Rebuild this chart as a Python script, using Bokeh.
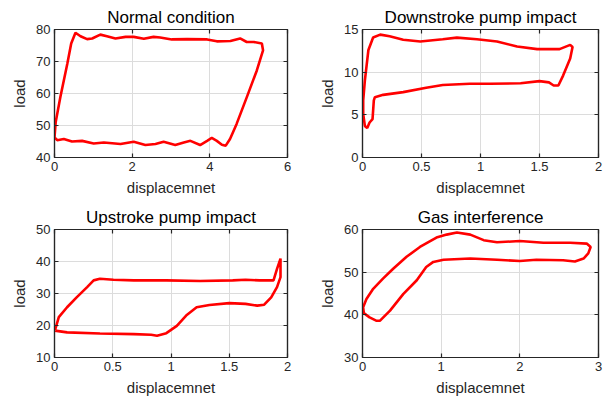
from bokeh.plotting import figure
from bokeh.layouts import column, row
from bokeh.models import Range1d, FixedTicker, LinearAxis
from bokeh.embed import file_html
from bokeh.resources import INLINE

# ---- data ----
normal_x = [0.0, 0.03, 0.15, 0.33, 0.43, 0.54, 0.67, 0.84, 0.97, 1.18, 1.35, 1.57, 1.83, 2.04, 2.30, 2.55,
            2.72, 3.02, 3.41, 3.93, 4.18, 4.53, 4.78, 4.95, 5.13, 5.34, 5.37, 5.21, 4.95, 4.69, 4.52, 4.41,
            4.31, 4.18, 4.05, 3.93, 3.75, 3.50, 3.33, 3.11, 2.81, 2.60, 2.34, 2.04, 1.70, 1.27, 1.01, 0.71,
            0.45, 0.24, 0.07, 0.0]
normal_y = [46.3, 51.0, 58.8, 69.3, 75.6, 79.0, 77.9, 77.0, 77.2, 78.4, 77.9, 77.2, 77.7, 77.7, 77.1, 77.7,
            77.5, 76.9, 77.0, 76.9, 76.3, 76.4, 77.2, 76.1, 76.1, 75.6, 73.5, 67.2, 58.8, 50.5, 45.8, 43.7,
            44.0, 45.2, 46.1, 45.2, 43.9, 45.2, 44.7, 43.9, 44.9, 44.2, 43.9, 44.9, 44.2, 44.7, 44.4, 45.2,
            45.0, 45.8, 45.4, 46.3]

down_x = [0.006, 0.02, 0.05, 0.09, 0.15, 0.23, 0.345, 0.49, 0.68, 0.80, 0.97, 1.14, 1.31, 1.48, 1.67, 1.76,
          1.78, 1.76, 1.70, 1.66, 1.62, 1.58, 1.50, 1.34, 1.08, 0.91, 0.68, 0.54, 0.345, 0.175, 0.105, 0.096,
          0.085, 0.06, 0.04, 0.02, 0.006, 0.006]
down_y = [6.7, 9.0, 12.6, 14.06, 14.4, 14.2, 13.8, 13.6, 13.86, 14.05, 13.86, 13.6, 13.0, 12.7, 12.7, 13.2,
          12.95, 11.6, 9.6, 8.44, 8.44, 8.8, 8.95, 8.7, 8.64, 8.64, 8.5, 8.17, 7.66, 7.34, 7.07, 6.7,
          4.5, 4.1, 3.45, 3.7, 5.1, 6.7]

up_x = [0.003, 0.037, 0.108, 0.19, 0.28, 0.336, 0.39, 0.506, 0.68, 0.96, 1.25, 1.53, 1.64, 1.76, 1.88, 1.91,
        1.94, 1.94, 1.91, 1.86, 1.80, 1.74, 1.64, 1.50, 1.33, 1.22, 1.13, 1.05, 0.96, 0.88, 0.83, 0.68,
        0.39, 0.108, 0.003]
up_y = [18.4, 22.6, 25.7, 28.8, 32.0, 34.1, 34.6, 34.3, 34.1, 34.1, 33.9, 34.1, 34.3, 34.1, 34.1, 37.7,
        40.9, 35.1, 32.0, 28.8, 26.5, 26.2, 26.75, 27.0, 26.4, 25.7, 23.1, 19.9, 17.6, 16.8, 17.1, 17.3,
        17.5, 17.85, 18.4]

gas_x = [0.008, 0.05, 0.136, 0.26, 0.39, 0.56, 0.73, 0.94, 1.07, 1.20, 1.37, 1.54, 1.71, 2.0, 2.3, 2.64,
         2.85, 2.90, 2.87, 2.81, 2.70, 2.55, 2.21, 2.0, 1.71, 1.37, 1.03, 0.90, 0.81, 0.69, 0.52, 0.35,
         0.22, 0.18, 0.09, 0.017, 0.008]
gas_y = [41.8, 43.7, 46.1, 48.5, 50.8, 53.6, 55.9, 58.1, 58.8, 59.3, 58.8, 57.5, 57.0, 57.3, 56.9, 56.9,
         56.7, 55.9, 54.4, 53.2, 52.5, 52.8, 52.9, 52.6, 52.9, 53.2, 52.9, 52.4, 51.2, 48.1, 44.9, 41.0,
         38.6, 38.6, 39.4, 40.4, 41.8]

titles = ["Normal condition", "Downstroke pump impact", "Upstroke pump impact", "Gas interference"]
x_label = "displacemnet"
y_label = "load"

x_ticks = [[0, 2, 4, 6], [0, 0.5, 1, 1.5, 2], [0, 0.5, 1, 1.5, 2], [0, 1, 2, 3]]
x_tick_labels = [["0", "2", "4", "6"], ["0", "0.5", "1", "1.5", "2"], ["0", "0.5", "1", "1.5", "2"],
                 ["0", "1", "2", "3"]]
y_ticks = [[40, 50, 60, 70, 80], [0, 5, 10, 15], [10, 20, 30, 40, 50], [30, 40, 50, 60]]
y_tick_labels = [["40", "50", "60", "70", "80"], ["0", "5", "10", "15"], ["10", "20", "30", "40", "50"],
                 ["30", "40", "50", "60"]]
x_limits = [(0, 6), (0, 2), (0, 2), (0, 3)]
y_limits = [(40, 80), (0, 15), (10, 50), (30, 60)]
series = [(normal_x, normal_y), (down_x, down_y), (up_x, up_y), (gas_x, gas_y)]

FONT = "Liberation Sans"
AX = "#262626"

# layout geometry per panel: (frame_w, frame_h, left, right, top, bottom)
geom = [(233, 128, 54, 16, 29, 43),
        (236, 128, 59, 5, 29, 43),
        (233, 128, 54, 16, 29, 43),
        (236, 128, 59, 5, 29, 43)]


def style_axis(ax, ticks, labels, show_labels=True):
    ax.ticker = FixedTicker(ticks=ticks)
    ax.minor_tick_line_color = None
    ax.major_tick_in = 4
    ax.major_tick_out = 0
    ax.axis_line_color = AX
    ax.axis_line_width = 1.2
    ax.major_tick_line_color = AX
    ax.major_tick_line_width = 1.2
    ax.major_label_text_font = FONT
    ax.major_label_text_color = AX
    if show_labels:
        ax.major_label_overrides = {t_: l_ for t_, l_ in zip(ticks, labels)}
        ax.major_label_text_font_size = "13px"
        ax.major_label_standoff = 4
    else:
        ax.major_label_overrides = {t_: "" for t_ in ticks}
        ax.major_label_text_font_size = "0px"
        ax.major_label_standoff = 0


figs = []
for i in range(4):
    fw, fh, bl, br, bt, bb = geom[i]
    p = figure(frame_width=fw, frame_height=fh, min_border_left=bl, min_border_right=br,
               min_border_top=bt, min_border_bottom=bb,
               x_range=Range1d(*x_limits[i]), y_range=Range1d(*y_limits[i]),
               output_backend="svg", toolbar_location=None, tools="")
    p.title.text = titles[i]
    p.title.align = "center"
    p.title.text_font = FONT
    p.title.text_font_size = "17px"
    p.title.text_font_style = "normal"
    p.title.text_color = "#000000"
    p.title.standoff = 5
    p.background_fill_color = "white"
    p.border_fill_color = "white"
    p.outline_line_color = AX
    p.outline_line_width = 1.2

    bottom_ax = p.below[0]
    left_ax = p.left[0]
    top_ax = LinearAxis()
    right_ax = LinearAxis()
    p.add_layout(top_ax, "above")
    p.add_layout(right_ax, "right")

    p.line(series[i][0], series[i][1], line_color="#ff0000", line_width=2.6)

    style_axis(bottom_ax, x_ticks[i], x_tick_labels[i])
    style_axis(left_ax, y_ticks[i], y_tick_labels[i])
    style_axis(top_ax, x_ticks[i], x_tick_labels[i], show_labels=False)
    style_axis(right_ax, y_ticks[i], y_tick_labels[i], show_labels=False)
    for ax in (bottom_ax, left_ax):
        ax.axis_label_text_font = FONT
        ax.axis_label_text_font_size = "15px"
        ax.axis_label_text_font_style = "normal"
        ax.axis_label_text_color = AX
        ax.axis_label_standoff = 5
    bottom_ax.axis_label = x_label
    left_ax.axis_label = y_label
    p.xgrid.ticker = FixedTicker(ticks=x_ticks[i])
    p.ygrid.ticker = FixedTicker(ticks=y_ticks[i])
    p.grid.grid_line_color = "#dcdcdc"
    p.grid.grid_line_width = 1
    figs.append(p)

layout = column(row(figs[0], figs[1]), row(figs[2], figs[3]))
open("out.html", "w").write(file_html(layout, INLINE))
